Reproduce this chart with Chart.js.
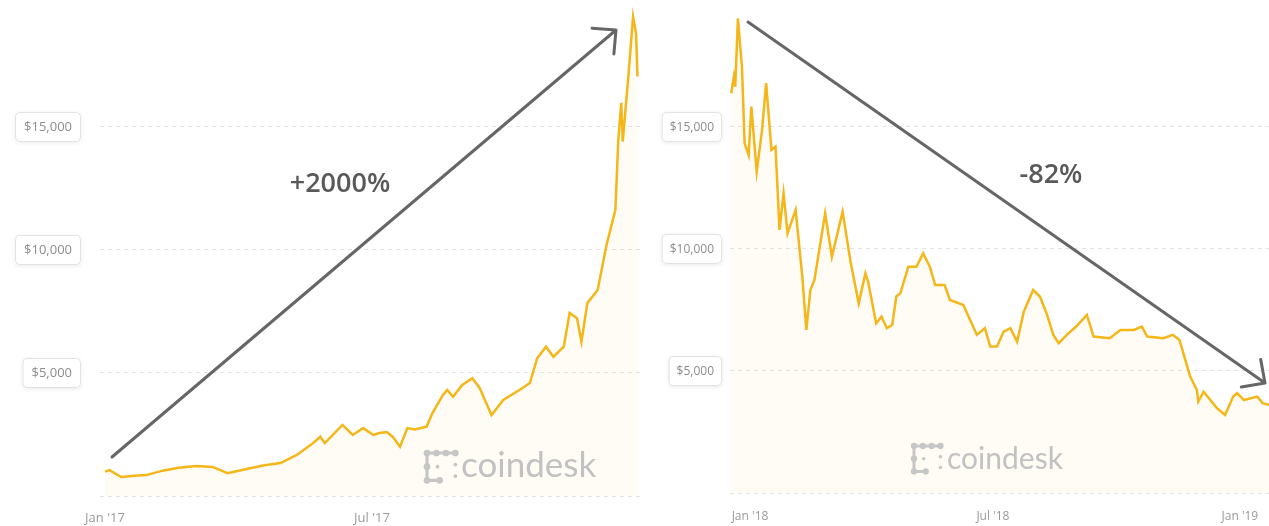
<!DOCTYPE html>
<html>
<head>
  <title>Bitcoin 2017 vs 2018</title>
  <script src="https://cdn.jsdelivr.net/npm/chart.js"></script>
  <style>
    body { margin: 0; background: #fff; }
    #wrap { position: relative; width: 1269px; height: 526px; overflow: hidden; }
    canvas { position: absolute; top: 0; }
    #left { left: 0; }
    #right { left: 640px; }
  </style>
</head>
<body>
  <div id="wrap">
    <canvas id="left" width="640" height="526"></canvas>
    <canvas id="right" width="629" height="526"></canvas>
  </div>

  <script>
    // 2017: days since Jan 1 2017, price in USD
    const days2017 = [0, 3, 11, 20, 28, 39, 50, 62, 73, 83, 96, 108, 119, 130, 140, 146, 149, 161, 168, 175, 182, 186, 191, 195, 200, 205, 210, 218, 222, 229, 232, 236, 242, 249, 254, 262, 270, 281, 288, 293, 299, 304, 311, 315, 320, 323, 327, 334, 340, 346, 348, 350, 351, 355, 358, 360, 361];
    const prices2017 = [990, 1050, 770, 820, 850, 1030, 1150, 1220, 1180, 930, 1100, 1250, 1340, 1670, 2100, 2410, 2150, 2890, 2480, 2760, 2480, 2560, 2600, 2410, 2000, 2760, 2700, 2820, 3370, 4100, 4310, 4030, 4500, 4790, 4390, 3290, 3900, 4310, 4590, 5600, 6070, 5660, 6070, 7440, 7230, 6270, 7840, 8370, 10200, 11630, 14470, 15980, 14400, 17200, 19480, 18800, 17050];

    // 2018: days since Jan 1 2018, price in USD
    const days2018 = [-14, -12, -11, -9, -6, -4, -1, 1, 5, 9, 12, 16, 19, 22, 25, 28, 34, 39, 42, 45, 48, 56, 61, 69, 75, 81, 86, 88, 94, 98, 102, 106, 109, 112, 118, 124, 129, 134, 138, 145, 149, 159, 169, 175, 179, 184, 189, 194, 199, 204, 211, 216, 221, 226, 230, 236, 243, 251, 256, 268, 276, 286, 292, 296, 308, 315, 320, 324, 328, 333, 334, 338, 343, 348, 354, 360, 363, 368, 378, 382, 387];
    const prices2018 = [16380, 17060, 16650, 19450, 17470, 14330, 13850, 15830, 13170, 14880, 16790, 14060, 14190, 10780, 12280, 10640, 11600, 8860, 6680, 8320, 8730, 11460, 9680, 11530, 9450, 7770, 9000, 8660, 6950, 7230, 6750, 6890, 8050, 8180, 9270, 9270, 9820, 9270, 8520, 8520, 7910, 7700, 6480, 6750, 6000, 6000, 6610, 6750, 6200, 7430, 8320, 8050, 7360, 6480, 6140, 6480, 6820, 7300, 6410, 6340, 6680, 6680, 6820, 6410, 6340, 6480, 6270, 5520, 4770, 4220, 3740, 4150, 3810, 3470, 3200, 3950, 4090, 3810, 3950, 3680, 3610];

    const tickDays2017 = [0, 181];
    const tickLabels2017 = ["Jan '17", "Jul '17"];
    const tickDays2018 = [0, 181, 365];
    const tickLabels2018 = ["Jan '18", "Jul '18", "Jan '19"];
    const priceTicks = [5000, 10000, 15000];

    const lineColor = '#f4b619';
    const fillColor = 'rgba(250, 225, 140, 0.09)';

    function roundRect(ctx, x, y, w, h, r) {
      ctx.beginPath();
      ctx.moveTo(x + r, y);
      ctx.lineTo(x + w - r, y);
      ctx.quadraticCurveTo(x + w, y, x + w, y + r);
      ctx.lineTo(x + w, y + h - r);
      ctx.quadraticCurveTo(x + w, y + h, x + w - r, y + h);
      ctx.lineTo(x + r, y + h);
      ctx.quadraticCurveTo(x, y + h, x, y + h - r);
      ctx.lineTo(x, y + r);
      ctx.quadraticCurveTo(x, y, x + r, y);
      ctx.closePath();
    }

    function drawLogo(ctx, x0, y0, s) {
      // dotted bracket mark of the watermark
      ctx.save();
      ctx.strokeStyle = '#c6c6c6';
      ctx.fillStyle = '#c6c6c6';
      ctx.lineWidth = 3 * s;
      ctx.lineCap = 'round';
      ctx.beginPath();
      ctx.moveTo(x0 + 27 * s, y0);
      ctx.lineTo(x0, y0);
      ctx.lineTo(x0, y0 + 26 * s);
      ctx.lineTo(x0 + 12 * s, y0 + 26 * s);
      ctx.stroke();
      const dots = [[0, 0], [9, 0], [18, 0], [27, 0], [0, 13], [0, 26], [12, 26]];
      dots.forEach(d => {
        ctx.beginPath();
        ctx.arc(x0 + d[0] * s, y0 + d[1] * s, 3.2 * s, 0, Math.PI * 2);
        ctx.fill();
      });
      const small = [[10, 13], [27, 11], [27, 22]];
      small.forEach(d => {
        ctx.beginPath();
        ctx.arc(x0 + d[0] * s, y0 + d[1] * s, 1.8 * s, 0, Math.PI * 2);
        ctx.fill();
      });
      ctx.restore();
    }

    function drawArrow(ctx, a) {
      ctx.save();
      ctx.strokeStyle = '#666';
      ctx.lineWidth = 3;
      ctx.lineCap = 'round';
      ctx.lineJoin = 'round';
      ctx.beginPath();
      ctx.moveTo(a.x1, a.y1);
      ctx.lineTo(a.x2, a.y2);
      const ang = Math.atan2(a.y1 - a.y2, a.x1 - a.x2);
      const len = 24, spread = 0.78;
      ctx.moveTo(a.x2 + len * Math.cos(ang + spread), a.y2 + len * Math.sin(ang + spread));
      ctx.lineTo(a.x2, a.y2);
      ctx.lineTo(a.x2 + len * Math.cos(ang - spread), a.y2 + len * Math.sin(ang - spread));
      ctx.stroke();
      ctx.restore();
    }

    const decor = {
      id: 'decor',
      afterDatasetsDraw(chart, args, opts) {
        const ctx = chart.ctx;
        // watermark
        drawLogo(ctx, opts.logo.x, opts.logo.y, opts.logo.s);
        ctx.save();
        ctx.fillStyle = '#c2c2c2';
        ctx.font = opts.logo.font;
        ctx.textBaseline = 'middle';
        ctx.fillText('coindesk', opts.logo.tx, opts.logo.ty);
        ctx.restore();
      },
      afterDraw(chart, args, opts) {
        const ctx = chart.ctx;
        const y = chart.scales.y;
        const x = chart.scales.x;

        // date labels under the plot
        ctx.save();
        ctx.font = opts.dateFont;
        ctx.fillStyle = '#9a9a9a';
        ctx.textAlign = 'center';
        ctx.textBaseline = 'middle';
        opts.tickDays.forEach((d, i) => {
          ctx.fillText(opts.tickLabels[i], x.getPixelForValue(d), opts.labelY);
        });
        ctx.restore();

        // boxed price labels
        ctx.save();
        ctx.font = opts.priceFont;
        priceTicks.forEach(v => {
          const label = '$' + v.toLocaleString('en-US');
          const tw = ctx.measureText(label).width;
          const w = tw + opts.boxPad * 2;
          const h = 30;
          const bx = opts.boxRight - w;
          const by = y.getPixelForValue(v) - h / 2;
          ctx.save();
          ctx.shadowColor = 'rgba(0,0,0,0.08)';
          ctx.shadowBlur = 4;
          ctx.shadowOffsetY = 1;
          roundRect(ctx, bx, by, w, h, 4);
          ctx.fillStyle = '#fff';
          ctx.fill();
          ctx.restore();
          roundRect(ctx, bx + 0.5, by + 0.5, w - 1, h - 1, 4);
          ctx.strokeStyle = '#e2e2e2';
          ctx.lineWidth = 1;
          ctx.stroke();
          ctx.fillStyle = '#8c8c8c';
          ctx.textAlign = 'center';
          ctx.textBaseline = 'middle';
          ctx.fillText(label, bx + w / 2, by + h / 2 + 0.5);
        });
        ctx.restore();

        drawArrow(ctx, opts.arrow);

        ctx.save();
        ctx.fillStyle = '#595959';
        ctx.font = '600 27px "Open Sans", sans-serif';
        ctx.textAlign = 'center';
        ctx.textBaseline = 'middle';
        ctx.fillText(opts.text.t, opts.text.x, opts.text.y);
        ctx.restore();
      }
    };

    function makeChart(id, days, prices, xMin, xMax, yMax, padLeft, padBottom, decorOpts) {
      const points = days.map((d, i) => ({ x: d, y: prices[i] }));
      return new Chart(document.getElementById(id).getContext('2d'), {
        type: 'line',
        data: {
          datasets: [{
            data: points,
            borderColor: lineColor,
            backgroundColor: fillColor,
            borderWidth: 2.5,
            pointRadius: 0,
            tension: 0,
            fill: 'origin'
          }]
        },
        options: {
          responsive: false,
          animation: false,
          devicePixelRatio: 1,
          layout: { padding: { left: padLeft, right: 0, top: 0, bottom: padBottom } },
          plugins: {
            legend: { display: false },
            tooltip: { enabled: false },
            decor: decorOpts
          },
          scales: {
            x: {
              type: 'linear',
              min: xMin,
              max: xMax,
              display: false
            },
            y: {
              min: 0,
              max: yMax,
              grid: { color: '#e3e3e3', lineWidth: 1, drawTicks: false },
              border: { display: false, dash: [4, 4] },
              afterBuildTicks: axis => { axis.ticks = [0].concat(priceTicks).map(v => ({ value: v })); },
              ticks: { display: false }
            }
          }
        },
        plugins: [decor]
      });
    }

    makeChart('left', days2017, prices2017, -3.4, 362.7, 20160, 100, 30, {
      tickDays: tickDays2017,
      tickLabels: tickLabels2017,
      labelY: 518,
      dateFont: '13px "Open Sans", sans-serif',
      priceFont: '13px "Open Sans", sans-serif',
      boxRight: 81,
      boxPad: 9,
      arrow: { x1: 112, y1: 457, x2: 616, y2: 30 },
      text: { t: '+2000%', x: 340, y: 184 },
      logo: { x: 427, y: 453, s: 1.05, tx: 461, ty: 466, font: '35px Lato, sans-serif' }
    });

    makeChart('right', days2018, prices2018, -14.9, 386.7, 20200, 90, 33, {
      tickDays: tickDays2018,
      tickLabels: tickLabels2018,
      labelY: 517,
      dateFont: '12px "Open Sans", sans-serif',
      priceFont: '12px "Open Sans", sans-serif',
      boxRight: 82,
      boxPad: 8,
      arrow: { x1: 108, y1: 22, x2: 625, y2: 383 },
      text: { t: '-82%', x: 411, y: 175 },
      logo: { x: 274, y: 446, s: 0.98, tx: 307, ty: 459, font: '30px Lato, sans-serif' }
    });
  </script>
</body>
</html>
